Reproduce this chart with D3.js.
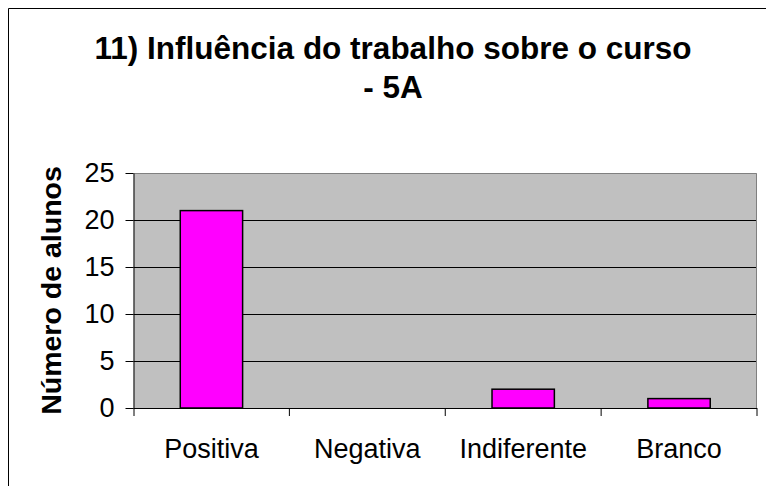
<!DOCTYPE html>
<html>
<head>
<meta charset="utf-8">
<script src="https://cdn.jsdelivr.net/npm/d3@7"></script>
<style>
  body { margin: 0; background: #fff; }
  svg { display: block; font-family: Arial, "Liberation Sans", sans-serif; }
</style>
</head>
<body>
<svg width="766" height="486"></svg>
<script>
const categories = ['Positiva', 'Negativa', 'Indiferente', 'Branco'];
const values = [21, 0, 2, 1];
const yTicks = [0, 5, 10, 15, 20, 25];
const titleLines = ['11) Influência do trabalho sobre o curso', '- 5A'];
const yLabel = 'Número de alunos';

const svg = d3.select('svg');
const margin = { top: 173, left: 133.5, right: 9, bottom: 78 };
const width = +svg.attr('width');
const height = +svg.attr('height');
const innerWidth = width - margin.left - margin.right;
const innerHeight = height - margin.top - margin.bottom;

// outer chart frame: only the left and top edges are in the picture
svg.append('path')
    .attr('d', `M8.5,${height}V8.5H${width}`)
    .attr('fill', 'none')
    .attr('stroke', '#000');

const xScale = d3.scaleBand()
    .domain(categories)
    .range([0, innerWidth]);

const yScale = d3.scaleLinear()
    .domain([0, 25])
    .range([innerHeight, 0]);

const g = svg.append('g')
    .attr('transform', `translate(${margin.left},${margin.top})`);

g.append('rect')
    .attr('width', innerWidth)
    .attr('height', innerHeight)
    .attr('fill', '#c0c0c0');

// gridlines
g.selectAll('.grid').data(yTicks.filter(t => t > 0 && t < 25))
    .enter().append('line')
        .attr('x1', 0).attr('x2', innerWidth)
        .attr('y1', d => Math.round(yScale(d)) + 0.5)
        .attr('y2', d => Math.round(yScale(d)) + 0.5)
        .attr('stroke', '#000');

// top and right border
g.append('path')
    .attr('d', `M0,0.5H${innerWidth - 0.5}V${innerHeight}`)
    .attr('fill', 'none')
    .attr('stroke', '#808080');

const barW = xScale.bandwidth() * 0.4;
g.selectAll('.bar').data(values)
    .enter().append('rect')
        .attr('x', (d, i) => xScale(categories[i]) + (xScale.bandwidth() - barW) / 2)
        .attr('y', d => yScale(d))
        .attr('width', barW)
        .attr('height', d => innerHeight - yScale(d))
        .attr('fill', '#ff00ff')
        .attr('stroke', '#000')
        .attr('stroke-width', 1.5)
        .style('display', d => d > 0 ? null : 'none');

// y axis
const yAxis = g.append('g')
    .call(d3.axisLeft(yScale).tickValues(yTicks).tickSize(8).tickPadding(11).tickSizeOuter(0));
yAxis.select('.domain').attr('stroke', '#000');
yAxis.selectAll('text')
    .style('font-size', '27px')
    .attr('fill', '#000');

// x axis: ticks at category boundaries, labels centered
const xAxis = g.append('g')
    .attr('transform', `translate(0,${innerHeight})`);
xAxis.append('line')
    .attr('x1', 0).attr('x2', innerWidth)
    .attr('y1', 0.5).attr('y2', 0.5)
    .attr('stroke', '#000');
xAxis.selectAll('.tick').data(categories.concat(['end']))
    .enter().append('line')
        .attr('x1', (d, i) => i * xScale.step() + (i === 0 ? 0.5 : 0))
        .attr('x2', (d, i) => i * xScale.step() + (i === 0 ? 0.5 : 0))
        .attr('y1', 0).attr('y2', 8)
        .attr('stroke', '#000');
xAxis.selectAll('.label').data(categories)
    .enter().append('text')
        .attr('x', d => xScale(d) + xScale.bandwidth() / 2)
        .attr('y', 50)
        .attr('text-anchor', 'middle')
        .style('font-size', '27px')
        .text(d => d);

// title
svg.selectAll('.title').data(titleLines)
    .enter().append('text')
        .attr('x', 393)
        .attr('y', (d, i) => 58.5 + i * 39.5)
        .attr('text-anchor', 'middle')
        .style('font-size', '31.5px')
        .style('font-weight', 'bold')
        .text(d => d);

// y label
svg.append('text')
    .attr('transform', `translate(61,${margin.top + innerHeight / 2}) rotate(-90)`)
    .attr('text-anchor', 'middle')
    .style('font-size', '28.5px')
    .style('font-weight', 'bold')
    .text(yLabel);
</script>
</body>
</html>
